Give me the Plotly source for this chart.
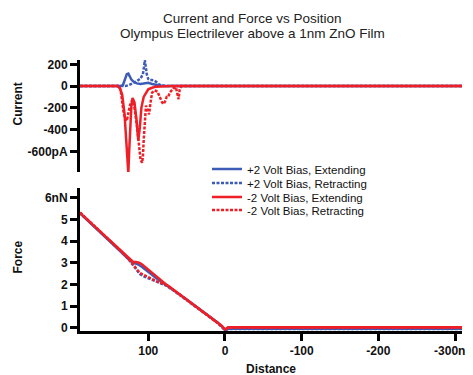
import plotly.graph_objects as go

# ---------------- Data ----------------
# Current (pA) vs distance (nm)
cur_pos_ext_x = [189, 136, 133, 130, 128, 126, 124, 122, 119, 115, 110, 105, 100, 95, 90, 85, 80, 0, -310]
cur_pos_ext_y = [0, 0, 10, 60, 110, 115, 90, 60, 40, 25, 20, 25, 30, 20, 10, 5, 0, 0, 0]

cur_pos_ret_x = [189, 130, 125, 120, 115, 110, 107, 105.5, 104.5, 103.5, 102, 100, 98, 95, 92, 89, 86, 82, 75, 0, -310]
cur_pos_ret_y = [0, 0, 10, 25, 45, 70, 110, 180, 240, 190, 110, 65, 55, 55, 50, 35, 15, 5, 0, 0, 0]

cur_neg_ext_x = [189, 140, 137, 134, 131, 129, 127.5, 126, 125, 123.5, 122, 120.5, 118, 115.5, 113, 111, 109, 106, 103, 100, 95, 90, 70, 0, -310]
cur_neg_ext_y = [0, 0, -20, -80, -250, -500, -720, -800, -620, -350, -180, -110, -150, -300, -500, -380, -200, -100, -60, -30, -15, -5, 0, 0, 0]

cur_neg_ret_x = [189, 138, 136, 134, 132, 130, 128, 126, 124, 121, 118, 115, 112, 110, 108, 107, 106, 104.5, 103, 101, 99, 97, 95, 92, 88, 85, 82, 80, 78, 76, 74, 72, 70, 67, 64, 62, 60.5, 59, 57, 0, -310]
cur_neg_ret_y = [0, 0, -40, -150, -250, -300, -320, -250, -180, -130, -200, -350, -550, -680, -705, -650, -500, -300, -180, -220, -260, -150, -60, -40, -50, -100, -150, -165, -140, -100, -100, -60, -40, -20, -10, -60, -120, -30, 0, 0, 0]

# Force (nN) vs distance (nm)
frc_pos_ext_x = [189, 170, 150, 135, 125, 120, 116, 112, 108, 104, 100, 95, 89, 83, 76, 68, 60, 50, 40, 30, 20, 10, 4, 0, -4, -310]
frc_pos_ext_y = [5.28, 4.66, 3.98, 3.48, 3.14, 3.0, 2.96, 2.9, 2.8, 2.68, 2.56, 2.42, 2.27, 2.12, 1.96, 1.76, 1.56, 1.3, 1.04, 0.78, 0.51, 0.25, 0.06, -0.1, -0.05, -0.05]

frc_pos_ret_x = [189, 170, 150, 135, 125, 120, 116, 111, 105, 100, 95, 89, 83, 76, 68, 60, 50, 40, 30, 20, 10, 4, 0, -4, -310]
frc_pos_ret_y = [5.3, 4.68, 4.0, 3.5, 3.13, 2.9, 2.7, 2.48, 2.36, 2.28, 2.2, 2.1, 2.02, 1.93, 1.74, 1.54, 1.29, 1.03, 0.77, 0.5, 0.24, 0.05, -0.12, -0.06, -0.06]

frc_neg_ext_x = [189, 170, 150, 135, 125, 120, 116, 112, 108, 104, 100, 95, 89, 83, 76, 68, 60, 50, 40, 30, 20, 10, 4, 0, -4, -310]
frc_neg_ext_y = [5.3, 4.68, 4.0, 3.5, 3.17, 3.05, 3.04, 3.0, 2.92, 2.8, 2.68, 2.52, 2.36, 2.17, 1.98, 1.78, 1.57, 1.31, 1.05, 0.79, 0.52, 0.26, 0.08, -0.08, 0.02, 0.02]

frc_neg_ret_x = [189, 170, 150, 135, 125, 120, 116, 111, 105, 100, 95, 89, 83, 76, 68, 60, 50, 40, 30, 20, 10, 4, 0, -4, -310]
frc_neg_ret_y = [5.32, 4.7, 4.02, 3.52, 3.15, 2.95, 2.75, 2.53, 2.42, 2.34, 2.25, 2.14, 2.06, 1.97, 1.77, 1.56, 1.3, 1.04, 0.78, 0.51, 0.25, 0.07, -0.1, 0.0, 0.0]

series_names = ["+2 Volt Bias, Extending", "+2 Volt Bias, Retracting",
                "-2 Volt Bias, Extending", "-2 Volt Bias, Retracting"]

x_tickvals = [100, 0, -100, -200, -300]
x_ticktext = ["100", "0", "-100", "-200", "-300nm"]
cur_tickvals = [200, 0, -200, -400, -600]
cur_ticktext = ["200", "0", "-200", "-400", "-600pA"]
frc_tickvals = [0, 1, 2, 3, 4, 5, 6]
frc_ticktext = ["0", "1", "2", "3", "4", "5", "6nN"]

# ---------------- Style / layout ----------------
BLUE = "#3d5cb8"
RED = "#ee1f26"
FONT = "Liberation Sans, Arial, sans-serif"
DOT = "3px,1.5px"

# figure is placed 8px in from the page edge (body margin)
OFF = 8
W, H = 473 - OFF, 375 - OFF
L, R, T, B = 80 - OFF, 11, 60 - OFF, 44
pw, ph = W - L - R, H - T - B


def px(xw):
    return (xw - OFF - L) / pw


def py(yw):
    return (H - B - (yw - OFF)) / ph


fig = go.Figure()

cur_sets = [(cur_pos_ext_x, cur_pos_ext_y), (cur_pos_ret_x, cur_pos_ret_y),
            (cur_neg_ext_x, cur_neg_ext_y), (cur_neg_ret_x, cur_neg_ret_y)]
frc_sets = [(frc_pos_ext_x, frc_pos_ext_y), (frc_pos_ret_x, frc_pos_ret_y),
            (frc_neg_ext_x, frc_neg_ext_y), (frc_neg_ret_x, frc_neg_ret_y)]
colors = [BLUE, BLUE, RED, RED]
dashes = ["solid", DOT, "solid", DOT]
legends = ["legend", "legend2", "legend3", "legend4"]

for (x, y), name, c, d, lg in zip(cur_sets, series_names, colors, dashes, legends):
    fig.add_trace(go.Scatter(x=x, y=y, mode="lines", name=name,
                             line=dict(color=c, width=2.5, dash=d),
                             xaxis="x2", yaxis="y2", showlegend=True, legend=lg))
for (x, y), name, c, d in zip(frc_sets, series_names, colors, dashes):
    fig.add_trace(go.Scatter(x=x, y=y, mode="lines", name=name,
                             line=dict(color=c, width=2.5, dash=d),
                             xaxis="x", yaxis="y", showlegend=False))

tickfont = dict(family=FONT, size=12, color="#111", weight="bold")
legfont = dict(family=FONT, size=11.5, color="#111")
titlefont = dict(family=FONT, size=12, color="#111", weight="bold")
row_y = [169, 183, 197, 210]
leg_common = dict(x=px(207), xanchor="left", yanchor="middle",
                  bgcolor="rgba(0,0,0,0)", font=legfont, borderwidth=0)

axis_common = dict(showline=True, linecolor="black", linewidth=3, ticks="outside",
                   ticklen=7, tickwidth=2.5, tickcolor="black", tickfont=tickfont,
                   showgrid=False, zeroline=False, ticklabeloverflow="allow",
                   automargin=False)

fig.update_layout(
    width=W, height=H,
    paper_bgcolor="white", plot_bgcolor="white",
    margin=dict(l=L, r=R, t=T, b=B, autoexpand=False),
    xaxis=dict(domain=[0, 1], range=[189, -309], tickvals=x_tickvals,
               ticktext=x_ticktext, anchor="y", **axis_common),
    yaxis=dict(domain=[0, 0.5277], range=[-0.15, 6.45], tickvals=frc_tickvals,
               ticktext=frc_ticktext, anchor="x", **axis_common),
    xaxis2=dict(domain=[0, 1], range=[189, -309], visible=False, anchor="y2",
                automargin=False),
    yaxis2=dict(domain=[0.5867, 1], range=[-790, 240], tickvals=cur_tickvals,
                ticktext=cur_ticktext, anchor="x2", **axis_common),
    legend=dict(y=py(row_y[0]), **leg_common),
    legend2=dict(y=py(row_y[1]), **leg_common),
    legend3=dict(y=py(row_y[2]), **leg_common),
    legend4=dict(y=py(row_y[3]), **leg_common),
)

ann_common = dict(xref="paper", yref="paper", showarrow=False,
                  xanchor="center", yanchor="middle")
fig.add_annotation(text="Current and Force vs Position", x=px(252), y=py(18.5),
                   font=dict(family=FONT, size=13.5, color="#222"), **ann_common)
fig.add_annotation(text="Olympus Electrilever above a 1nm ZnO Film", x=px(252), y=py(33.5),
                   font=dict(family=FONT, size=13.5, color="#222"), **ann_common)
fig.add_annotation(text="Current", x=px(17.5), y=py(104), textangle=-90,
                   font=titlefont, **ann_common)
fig.add_annotation(text="Force", x=px(17.5), y=py(257), textangle=-90,
                   font=titlefont, **ann_common)
fig.add_annotation(text="Distance", x=px(271), y=py(369), font=titlefont, **ann_common)

fig.write_html("out.html")
